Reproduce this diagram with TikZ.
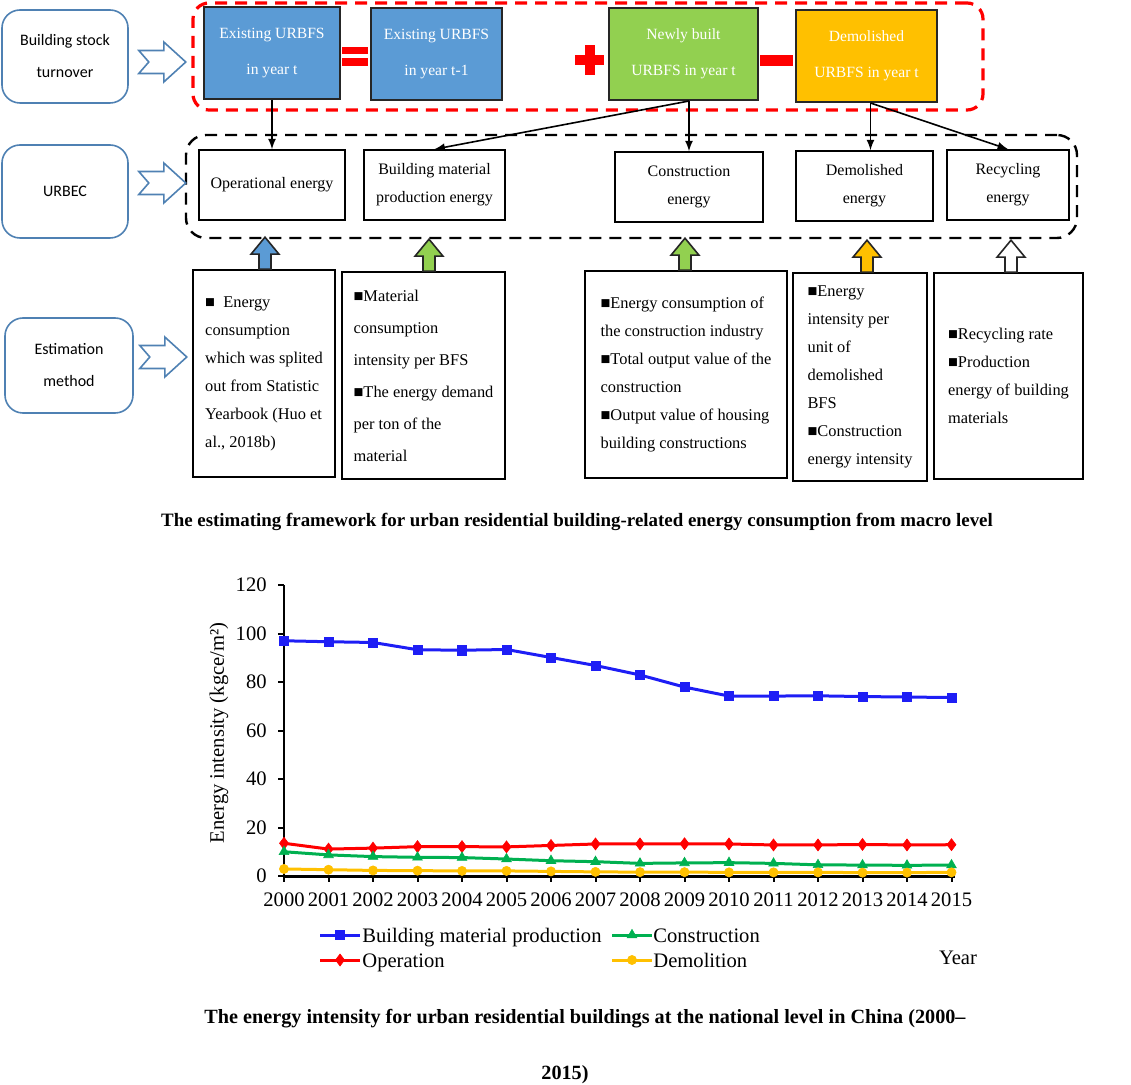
\documentclass[tikz,border=0pt]{standalone}
\usepackage{fontspec}
\setmainfont{Liberation Serif}
\newfontfamily\calfont{Carlito}
\usepackage{xcolor}
\usepackage{tikz}
\usetikzlibrary{shapes.geometric, arrows, positioning, fit, plotmarks}
\definecolor{boxblue}{HTML}{5B9BD5}
\definecolor{boxgreen}{HTML}{92D050}
\definecolor{boxyellow}{HTML}{FFC000}
\definecolor{sideblue}{HTML}{4F81B3}
\definecolor{lineblue}{HTML}{1E1EF5}
\definecolor{linered}{HTML}{FF0000}
\definecolor{linegreen}{HTML}{00B050}
\definecolor{lineyellow}{HTML}{FFC000}
\newcommand\chartfont{\fontsize{10.3}{12}\selectfont}
\newcommand\captfont{\bfseries\fontsize{9.45}{11}\selectfont}

\begin{document}
\begin{tikzpicture}[x=0.5pt, y=-0.5pt]
    % Define styles
    \tikzstyle{side} = [rectangle, rounded corners=9pt, minimum width=63pt, minimum height=46.5pt, draw=sideblue, line width=0.8pt, align=center, font=\calfont\fontsize{8}{16}\selectfont]
    \tikzstyle{stock} = [rectangle, minimum height=46pt, draw=black!85, line width=1pt, text=white, align=center, font=\fontsize{7.8}{18}\selectfont]
    \tikzstyle{energy} = [rectangle, minimum height=35pt, draw=black, line width=0.8pt, align=center, font=\fontsize{8}{14}\selectfont]
    \tikzstyle{method} = [rectangle, draw=black, line width=0.8pt, align=left, font=\fontsize{8.2}{14}\selectfont]
    \tikzstyle{redframe} = [rectangle, rounded corners=8pt, draw=red, line width=1.6pt, dash pattern=on 6pt off 4pt, inner sep=0pt]
    \tikzstyle{blackframe} = [rectangle, rounded corners=10pt, draw=black, line width=1.2pt, dash pattern=on 6pt off 4pt, inner sep=0pt]
    \tikzstyle{flow} = [line width=0.8pt, ->, >=latex]
    \tikzstyle{legendtext} = [anchor=base west, inner sep=0pt, font=\chartfont]
    \tikzstyle{blueseries} = [color=lineblue, line width=1.5pt, mark=square*, mark size=2.3pt, mark options={line width=0.3pt}]
    \tikzstyle{redseries} = [color=linered, line width=1.5pt, mark=diamond*, mark size=3pt, mark options={line width=0.3pt}]
    \tikzstyle{greenseries} = [color=linegreen, line width=1.5pt, mark=triangle*, mark size=2.8pt, mark options={line width=0.3pt}]
    \tikzstyle{yellowseries} = [color=lineyellow, line width=1.5pt, mark=*, mark size=2.3pt, mark options={line width=0.3pt}]
    \tikzset{
        hollow/.pic={\draw[sideblue, fill=white, line width=0.8pt] (0,-11.5) -- (25,-11.5) -- (25,-20) -- (47,0) -- (25,20) -- (25,11.5) -- (0,11.5) -- (10,0) -- cycle;},
        uparrow/.pic={\path[pic actions, draw=black!85, line width=0.8pt] (-6,0) -- (-6,-15) -- (-14,-15) -- (0,-32) -- (14,-15) -- (6,-15) -- (6,0) -- cycle;}
    }
    \useasboundingbox (0,0) rectangle (1131,1085);

    % Left column
    \node (turnover) [side] at (65,56.5) {Building stock\\turnover};
    \node (urbec) [side] at (65,191.5) {URBEC};
    \node (estim) [side, minimum width=64pt, minimum height=47.5pt] at (69,365.5) {Estimation\\method};

    % Building stock turnover
    \node (exist) [stock, fill=boxblue, minimum width=68pt] at (272,53) {Existing URBFS\\in year t};
    \node (prev) [stock, fill=boxblue, minimum width=65.5pt] at (436.5,54) {Existing URBFS\\in year t-1};
    \node (newb) [stock, fill=boxgreen, minimum width=74.5pt] at (683.5,54) {Newly built\\URBFS in year t};
    \node (demb) [stock, fill=boxyellow, minimum width=70.5pt] at (866.5,56) {Demolished\\URBFS in year t};
    \node (stockframe) [redframe, fit={(193,3) (983,110)}] {};

    % = + -
    \fill[red] (342,47) rectangle (368,54);
    \fill[red] (342,58) rectangle (368,66);
    \fill[red] (575,55) rectangle (604,65);
    \fill[red] (585,45) rectangle (595,75);
    \fill[red] (760,55) rectangle (793,66);

    % URBEC
    \node (oper) [energy, minimum width=73pt] at (272,185) {Operational energy};
    \node (matl) [energy, minimum width=70.5pt] at (434.5,185) {Building material\\production energy};
    \node (cons) [energy, minimum width=74pt] at (689,187) {Construction\\energy};
    \node (demo) [energy, minimum width=68.5pt] at (864.5,186) {Demolished\\energy};
    \node (recy) [energy, minimum width=61pt] at (1008,185) {Recycling\\energy};
    \node (energyframe) [blackframe, fit={(186,135) (1077,238)}] {};

    % Flows from stock to energy
    \coordinate (nsplit) at (newb.south -| cons.north);
    \coordinate (dsplit) at ([xshift=2pt]demb.south);
    \draw [flow] (exist.south) -- (oper.north);
    \draw [flow] (nsplit) -- (matl.north);
    \draw [flow] (nsplit) -- (cons.north);
    \draw [flow] (dsplit) -- (dsplit |- demo.north);
    \draw [flow] (dsplit) -- (recy.north);

    % Estimation method
    \node (m1) [method, minimum width=71pt, minimum height=103.5pt] at (264,373.5) {■\ \ Energy\\consumption\\which was splited\\out from Statistic\\Yearbook (Huo et\\al., 2018b)};
    \node (m2) [method, minimum width=81.5pt, minimum height=103.5pt, font=\fontsize{8.2}{16}\selectfont] at (423.5,375.5) {■Material\\consumption\\intensity per BFS\\■The energy demand\\per ton of the\\material};
    \node (m3) [method, minimum width=101pt, minimum height=103.5pt] at (686,374.5) {■Energy consumption of\\the construction industry\\■Total output value of the\\construction\\■Output value of housing\\building constructions};
    \node (m4) [method, minimum width=67pt, minimum height=104pt] at (860,377) {■Energy\\intensity per\\unit of\\demolished\\BFS\\■Construction\\energy intensity};
    \node (m5) [method, minimum width=74.5pt, minimum height=103pt] at (1008.5,376) {■Recycling rate\\■Production\\energy of building\\materials};

    % Block arrows up to energy
    \pic[fill=boxblue] at (265,0 |- m1.north) {uparrow};
    \pic[fill=boxgreen] at (429,0 |- m2.north) {uparrow};
    \pic[fill=boxgreen] at (685,0 |- m3.north) {uparrow};
    \pic[fill=boxyellow] at (867,0 |- m4.north) {uparrow};
    \pic[fill=white] at (1011,0 |- m5.north) {uparrow};

    % Hollow arrows from left column
    \pic at ([xshift=5pt, yshift=-2.75pt]turnover.east) {hollow};
    \pic at ([xshift=5pt, yshift=4.25pt]urbec.east) {hollow};
    \pic at ([xshift=3pt, yshift=4.25pt]estim.east) {hollow};

    \node (capt1) [font=\captfont] at (577,522) {The estimating framework for urban residential building-related energy consumption from macro level};

    % Chart
    \begin{scope}[shift={(284,876)}, x=22.25pt, y=1.2125pt]
        \draw[line width=1pt] (0,0) -- (0,120);
        \foreach \v in {0,20,...,120} {
            \draw[line width=1pt] (0,\v) -- ++(-3pt,0);
            \node[anchor=east, inner sep=0pt, font=\chartfont] at ([xshift=-8.5pt]0,\v) {\v};
        }
        \draw[line width=1.5pt] (0,0) -- (15.08,0);
        \foreach \yr [count=\i from 0] in {2000,...,2015} {
            \draw[line width=1pt] (\i,0) -- ++(0,-3pt);
            \node[inner sep=0pt, font=\chartfont] at ([yshift=-12pt]\i,0) {\yr};
        }
        \draw[blueseries] plot coordinates {(0,97.0) (1,96.6) (2,96.3) (3,93.3) (4,93.1) (5,93.4) (6,90.1) (7,86.8) (8,82.9) (9,77.9) (10,74.2) (11,74.2) (12,74.3) (13,74.0) (14,73.8) (15,73.6)};
        \draw[redseries] plot coordinates {(0,13.5) (1,11.1) (2,11.5) (3,12.1) (4,12.1) (5,12.0) (6,12.6) (7,13.2) (8,13.2) (9,13.3) (10,13.2) (11,12.8) (12,12.8) (13,13.0) (14,12.8) (15,12.9)};
        \draw[greenseries] plot coordinates {(0,10.0) (1,8.7) (2,8.0) (3,7.7) (4,7.6) (5,7.0) (6,6.3) (7,5.9) (8,5.2) (9,5.4) (10,5.5) (11,5.2) (12,4.6) (13,4.5) (14,4.4) (15,4.5)};
        \draw[yellowseries] plot coordinates {(0,2.9) (1,2.6) (2,2.3) (3,2.2) (4,2.1) (5,2.1) (6,1.9) (7,1.7) (8,1.6) (9,1.6) (10,1.5) (11,1.5) (12,1.5) (13,1.4) (14,1.4) (15,1.5)};
    \end{scope}
    \node (ylabel) [rotate=90, font=\chartfont] at (219,733) {Energy intensity (kgce/m²)};

    % Legend
    \draw[blueseries, mark indices={2}] plot coordinates {(320,935) (340,935) (360,935)};
    \draw[redseries, mark indices={2}] plot coordinates {(320,960) (340,960) (360,960)};
    \draw[greenseries, mark indices={2}] plot coordinates {(612,935) (632,935) (652,935)};
    \draw[yellowseries, mark indices={2}] plot coordinates {(612,960) (632,960) (652,960)};
    \node (lgmat) [legendtext] at (362,942) {Building material production};
    \node (lgop) [legendtext] at (362,967) {Operation};
    \node (lgcon) [legendtext] at (653,942) {Construction};
    \node (lgdem) [legendtext] at (653,967) {Demolition};
    \node (yearlabel) [font=\chartfont] at (958,958) {Year};

    \node (capt2) [font=\captfont\fontsize{10.1}{12}\selectfont] at (585,1019) {The energy intensity for urban residential buildings at the national level in China (2000–};
    \node (capt2b) [font=\captfont\fontsize{10.1}{12}\selectfont] at (565,1075) {2015)};
\end{tikzpicture}
\end{document}
